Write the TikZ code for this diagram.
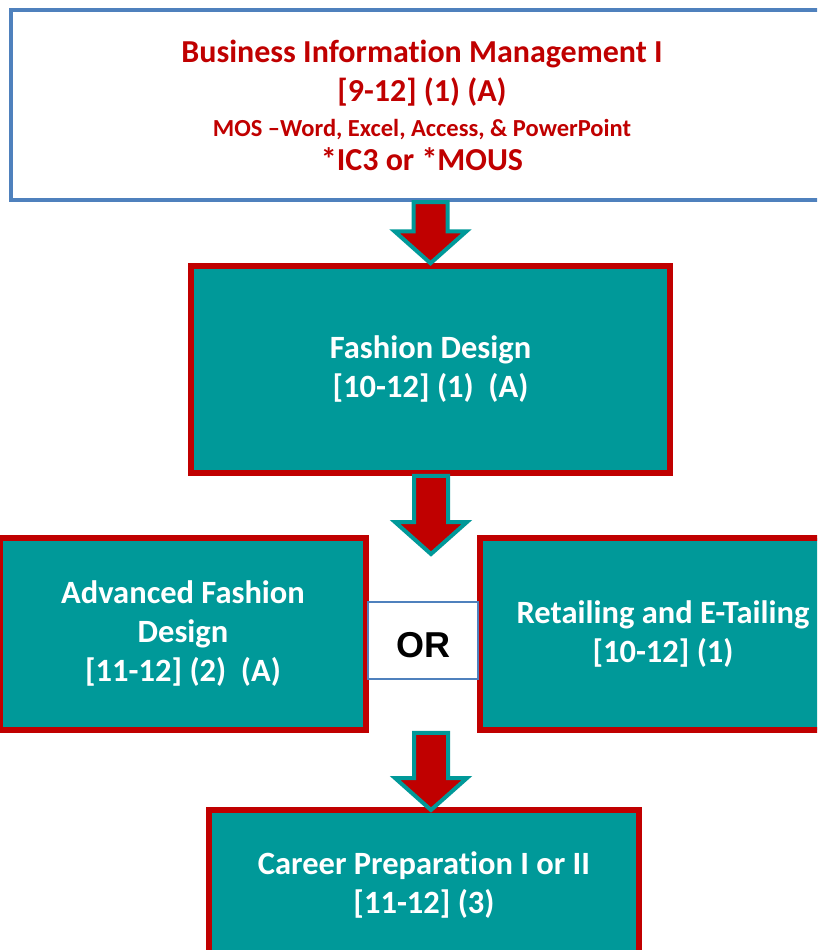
\documentclass[tikz,border=0pt]{standalone}
\usepackage{fontspec}
\setmainfont[Ligatures=NoCommon]{Carlito}
\newfontfamily\orfont{Liberation Sans}
\usetikzlibrary{calc}
\definecolor{bred}{HTML}{C00000}
\definecolor{bteal}{HTML}{009999}
\definecolor{bblue}{HTML}{4F81BD}
\tikzset{
  topbox/.style={draw=bblue, fill=white, line width=4pt, inner sep=0pt, align=center, text=bred, font=\bfseries\fontsize{32}{39}\selectfont},
  tealbox/.style={draw=bred, fill=bteal, line width=5.5pt, inner sep=0pt, align=center, text=white, font=\bfseries\fontsize{32.5}{39}\selectfont},
  orbox/.style={draw=bblue, fill=white, line width=1.5pt, inner sep=0pt, font=\orfont\bfseries\fontsize{36}{40}\selectfont},
  blockarrowstyle/.style={draw=bteal, fill=bred, line width=4pt, line join=miter}
}
\newcommand\blockarrow[2]{%
  \draw[blockarrowstyle] let \p1=(#1), \p2=(#2) in
    (\x2-17pt,\y1) -- (\x2-17pt,\y2+32pt) -- (\x2-36pt,\y2+32pt) -- (\x2,\y2)
    -- (\x2+36pt,\y2+32pt) -- (\x2+17pt,\y2+32pt) -- (\x2+17pt,\y1) -- cycle;}
\begin{document}
\begin{tikzpicture}[x=1pt,y=-1pt]
\useasboundingbox (0,0) rectangle (817,950);
\clip (0,0) rectangle (817,950);
\fill[white] (0,0) rectangle (817,950);

\node[topbox, minimum width=822pt, minimum height=190pt] (bim) at (422,105)
  {Business Information Management I\\
   {[9-12] (1) (A)}\\[-4pt]
   {\fontsize{24.5}{30}\selectfont MOS –Word, Excel, Access, \& PowerPoint}\\[-5pt]
   *IC3 or *MOUS};

\node[tealbox, minimum width=479pt, minimum height=207pt] (fd) at (430.5,369.5)
  {Fashion Design\\{[10-12] (1)\ \ (A)}};

\node[tealbox, minimum width=366pt, minimum height=192pt] (adv) at (183,634)
  {Advanced Fashion\\Design\\{[11-12] (2)\ \ (A)}};

\node[tealbox, minimum width=366pt, minimum height=192pt] (ret) at (663,634)
  {Retailing and E-Tailing\\{[10-12] (1)}};

\node[orbox, minimum width=110pt, minimum height=77pt] (or) at (423,640.5) {\raisebox{-5pt}[\height][\depth]{OR}};

\node[tealbox, minimum width=430pt, minimum height=150pt] (cp) at (424,885)
  {Career Preparation I or II\\{[11-12] (3)}};

\coordinate (tip2) at (431,554);
\coordinate (tip3) at (431,810);

\blockarrow{bim.south}{fd.north}
\blockarrow{fd.south}{tip2}
\blockarrow{adv.south}{tip3}
\end{tikzpicture}
\end{document}
